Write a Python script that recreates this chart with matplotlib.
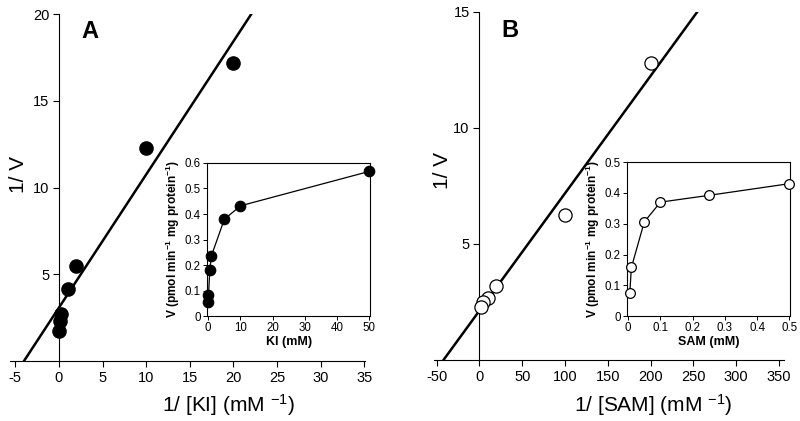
import matplotlib
matplotlib.use('Agg')
import matplotlib.pyplot as plt
from matplotlib.ticker import FuncFormatter

plt.rcParams['font.family'] = ['Liberation Sans', 'DejaVu Sans']
plt.rcParams['axes.unicode_minus'] = False
plt.rcParams['mathtext.fontset'] = 'custom'
plt.rcParams['mathtext.rm'] = 'Liberation Sans'
plt.rcParams['mathtext.bf'] = 'Liberation Sans:bold'
plt.rcParams['mathtext.default'] = 'regular'

# panel A : KI
ki_inv = [20, 10, 2, 1, 0.2, 0.1, 0.02]
ki_vinv = [17.2, 12.3, 5.45, 4.15, 2.7, 2.3, 1.75]
ki_fit = (0.768, 3.07)          # slope, intercept
ki_conc = [0.05, 0.1, 0.5, 1, 5, 10, 50]
ki_v = [0.055, 0.081, 0.18, 0.236, 0.379, 0.432, 0.567]

# panel B : SAM
sam_inv = [200, 100, 20, 10, 4, 2]
sam_vinv = [12.8, 6.25, 3.2, 2.65, 2.5, 2.3]
sam_fit = (0.0506, 2.12)
sam_conc = [0.005, 0.01, 0.05, 0.1, 0.25, 0.5]
sam_v = [0.0756, 0.158, 0.306, 0.370, 0.392, 0.430]

fmt = FuncFormatter(lambda v, p: '%g' % v)


def main_axes(rect, xlim, ylim, xticks, yticks):
    ax = fig.add_axes(rect)
    ax.set_xlim(xlim)
    ax.set_ylim(ylim)
    ax.spines['top'].set_visible(False)
    ax.spines['right'].set_visible(False)
    ax.spines['left'].set_position(('data', 0))
    ax.spines['bottom'].set_position(('data', 0))
    for s in ('left', 'bottom'):
        ax.spines[s].set_linewidth(0.8)
    ax.set_xticks(xticks)
    ax.set_yticks(yticks)
    ax.xaxis.set_major_formatter(fmt)
    ax.tick_params(direction='out', length=4, width=0.8, labelsize=10.5, pad=3)
    ax.patch.set_alpha(0)
    return ax


def inset_axes(rect, x, y, xlim, ylim, xticks, yticks, xlabel, filled):
    ax = fig.add_axes(rect)
    ax.plot(x, y, '-', color='black', lw=0.9,
            marker='o', ms=7.5 if filled else 7,
            mfc='black' if filled else 'white', mec='black', mew=0.9,
            clip_on=False, zorder=3)
    ax.set_xlim(xlim)
    ax.set_ylim(ylim)
    ax.set_xticks(xticks)
    ax.set_yticks(yticks)
    ax.xaxis.set_major_formatter(fmt)
    ax.yaxis.set_major_formatter(fmt)
    ax.tick_params(direction='out', length=3, width=0.7, labelsize=8.3, pad=1.5)
    for s in ax.spines.values():
        s.set_linewidth(0.8)
    ax.set_xlabel(xlabel, fontsize=9, fontweight='bold', labelpad=1)
    ax.set_ylabel(r'V (pmol min$^{\mathbf{-1}}$ mg protein$^{\mathbf{-1}}$)',
                  fontsize=8.6, fontweight='bold', labelpad=2)
    return ax


fig = plt.figure(figsize=(8, 4.21), dpi=100)

# ---- A
axA = main_axes([0.0125, 0.1425, 0.444, 0.824], (-5.6, 35.1), (0, 20),
                range(-5, 40, 5), [5, 10, 15, 20])
axA.axline((0, ki_fit[1]), slope=ki_fit[0], color='black', lw=1.8, zorder=2)
axA.plot(ki_inv, ki_vinv, 'o', ms=9.5, color='black', clip_on=False, zorder=3)
fig.text(0.112, 0.925, 'A', fontsize=17, fontweight='bold', ha='center', va='center')
fig.text(0.023, 0.585, '1/ V', fontsize=15, rotation=90, ha='center', va='center')
fig.text(0.285, 0.038, r'1/ [KI] (mM $^{-1}$)', fontsize=15, ha='center', va='center')

inset_axes([0.259, 0.249, 0.204, 0.364], ki_conc, ki_v, (-0.3, 50.3), (0, 0.6),
           range(0, 60, 10), [0, 0.1, 0.2, 0.3, 0.4, 0.5, 0.6], 'KI (mM)', True)

# ---- B
axB = main_axes([0.5425, 0.145, 0.4375, 0.8265], (-53, 356), (0, 15),
                range(-50, 400, 50), [5, 10, 15])
axB.axline((0, sam_fit[1]), slope=sam_fit[0], color='black', lw=1.8, zorder=2)
axB.plot(sam_inv, sam_vinv, 'o', ms=9.5, mfc='white', mec='black', mew=0.9,
         clip_on=False, zorder=3)
fig.text(0.6375, 0.928, 'B', fontsize=17, fontweight='bold', ha='center', va='center')
fig.text(0.553, 0.595, '1/ V', fontsize=15, rotation=90, ha='center', va='center')
fig.text(0.816, 0.038, r'1/ [SAM] (mM $^{-1}$)', fontsize=15, ha='center', va='center')

inset_axes([0.784, 0.249, 0.204, 0.366], sam_conc, sam_v, (-0.003, 0.503), (0, 0.5),
           [0, 0.1, 0.2, 0.3, 0.4, 0.5], [0, 0.1, 0.2, 0.3, 0.4, 0.5], 'SAM (mM)', False)

fig.savefig('out.png', dpi=100)
